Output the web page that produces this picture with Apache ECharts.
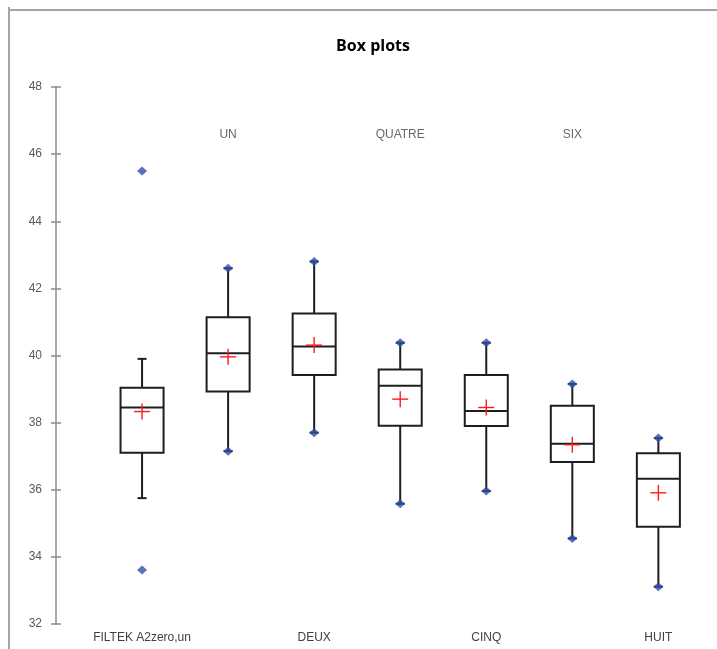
<!DOCTYPE html>
<html>
<head>
<meta charset="utf-8">
<script src="https://cdn.jsdelivr.net/npm/echarts@6/dist/echarts.min.js"></script>
<style>
html, body { margin: 0; padding: 0; background: #fff; }
#chart { width: 717px; height: 649px; }
</style>
</head>
<body>
<div id="chart"></div>
<script>
// categories, alternating bottom / top labels
var categories = ['FILTEK A2zero,un', 'UN', 'DEUX', 'QUATRE', 'CINQ', 'SIX', 'HUIT'];
// whisker ends
var whiskLow  = [35.75, 37.15, 37.70, 35.58, 35.96, 34.55, 33.11];
var whiskHigh = [39.90, 42.60, 42.80, 40.38, 40.38, 39.15, 37.54];
// box
var q1      = [37.10, 38.93, 39.42, 37.91, 37.90, 36.83, 34.90];
var medians = [38.45, 40.07, 40.27, 39.10, 38.35, 37.37, 36.33];
var q3      = [39.04, 41.14, 41.25, 39.58, 39.42, 38.50, 37.09];
var means   = [38.33, 39.96, 40.31, 38.70, 38.45, 37.34, 35.91];
// min / max points (blue)
var minPts = [33.61, 37.15, 37.70, 35.58, 35.96, 34.55, 33.11];
var maxPts = [45.50, 42.60, 42.80, 40.38, 40.38, 39.15, 37.54];
var yTicks = [32, 34, 36, 38, 40, 42, 44, 46, 48];
var topLabelY = 46.58;

var boxData = [], pointData = [], topLabels = [];
for (var i = 0; i < categories.length; i++) {
    boxData.push([i + 1, whiskLow[i], q1[i], medians[i], q3[i], whiskHigh[i], means[i]]);
    pointData.push([i + 1, minPts[i]]);
    pointData.push([i + 1, maxPts[i]]);
    if (i % 2 === 1) topLabels.push({ value: [i + 1, topLabelY], name: categories[i] });
}

function renderBox(params, api) {
    var x = api.value(0);
    var lo = api.coord([x, api.value(1)]);
    var b1 = api.coord([x, api.value(2)]);
    var md = api.coord([x, api.value(3)]);
    var b3 = api.coord([x, api.value(4)]);
    var hi = api.coord([x, api.value(5)]);
    var mn = api.coord([x, api.value(6)]);
    var half = api.size([0.5, 0])[0] / 2;
    var cap = 4.5, cr = 8;
    var cx = lo[0];
    var st = { stroke: '#1e1e1e', lineWidth: 2, fill: null };
    var red = { stroke: '#ff1a1a', lineWidth: 1.4 };
    return {
        type: 'group',
        children: [
            { type: 'line', shape: { x1: cx, y1: b1[1], x2: cx, y2: lo[1] }, style: st },
            { type: 'line', shape: { x1: cx, y1: b3[1], x2: cx, y2: hi[1] }, style: st },
            { type: 'line', shape: { x1: cx - cap, y1: lo[1], x2: cx + cap, y2: lo[1] }, style: st },
            { type: 'line', shape: { x1: cx - cap, y1: hi[1], x2: cx + cap, y2: hi[1] }, style: st },
            { type: 'rect', shape: { x: cx - half, y: b3[1], width: half * 2, height: b1[1] - b3[1] }, style: st },
            { type: 'line', shape: { x1: cx - half, y1: md[1], x2: cx + half, y2: md[1] }, style: st },
            { type: 'line', shape: { x1: cx - cr, y1: mn[1], x2: cx + cr, y2: mn[1] }, style: red, z2: 5 },
            { type: 'line', shape: { x1: cx, y1: mn[1] - cr, x2: cx, y2: mn[1] + cr }, style: red, z2: 5 }
        ]
    };
}

var myChart = echarts.init(document.getElementById('chart'));
var myoption = {
    animation: false,
    backgroundColor: '#fff',
    title: {
        text: 'Box plots',
        left: 368,
        top: 33,
        textAlign: 'center',
        textStyle: { fontFamily: 'Open Sans', fontWeight: 'bold', fontSize: 16, color: '#000' }
    },
    graphic: [
        { type: 'line', shape: { x1: 9, y1: 10, x2: 717, y2: 10 }, style: { stroke: '#a6a6a6', lineWidth: 2 } },
        { type: 'line', shape: { x1: 9, y1: 7, x2: 9, y2: 649 }, style: { stroke: '#a6a6a6', lineWidth: 2 } }
    ],
    grid: { left: 56, right: 7, top: 87, bottom: 25 },
    xAxis: {
        type: 'value',
        min: 0,
        max: 7.6,
        interval: 1,
        splitLine: { show: false },
        axisLine: { show: false },
        axisTick: { show: false },
        axisLabel: {
            margin: 8,
            color: '#404040',
            fontFamily: 'Liberation Sans',
            fontSize: 12,
            showMaxLabel: false,
            formatter: function (v) {
                var k = Math.round(v);
                if (k !== v || k < 1 || k > categories.length || (k - 1) % 2 !== 0) return '';
                return categories[k - 1];
            }
        }
    },
    yAxis: [{
        type: 'value',
        min: yTicks[0],
        max: yTicks[yTicks.length - 1],
        interval: 2,
        splitLine: { show: false },
        axisLine: { show: true, lineStyle: { color: '#8c8c8c', width: 1.5 } },
        axisTick: { show: true, inside: false, length: 5, lineStyle: { color: '#8c8c8c', width: 1.5 } },
        axisLabel: { margin: 14, color: '#595959', fontFamily: 'Liberation Sans', fontSize: 12 }
    }, {
        type: 'value',
        min: yTicks[0],
        max: yTicks[yTicks.length - 1],
        interval: 2,
        position: 'left',
        splitLine: { show: false },
        axisLine: { show: false },
        axisTick: { show: true, inside: true, length: 5, lineStyle: { color: '#8c8c8c', width: 1.5 } },
        axisLabel: { show: false }
    }],
    series: [{
        type: 'custom',
        renderItem: renderBox,
        data: boxData,
        encode: { x: 0, y: [1, 2, 3, 4, 5] },
        z: 2
    }, {
        type: 'scatter',
        symbol: 'diamond',
        symbolSize: [10, 9],
        itemStyle: { color: '#2f4ea6' },
        data: pointData,
        z: 3
    }, {
        type: 'scatter',
        symbolSize: 0,
        label: {
            show: true,
            position: 'inside',
            formatter: '{b}',
            color: '#404040',
            fontFamily: 'Liberation Sans',
            fontSize: 12
        },
        data: topLabels
    }]
};
myChart.setOption(myoption);

window.onresize = function () {
    myChart.resize();
};
</script>
</body>
</html>
